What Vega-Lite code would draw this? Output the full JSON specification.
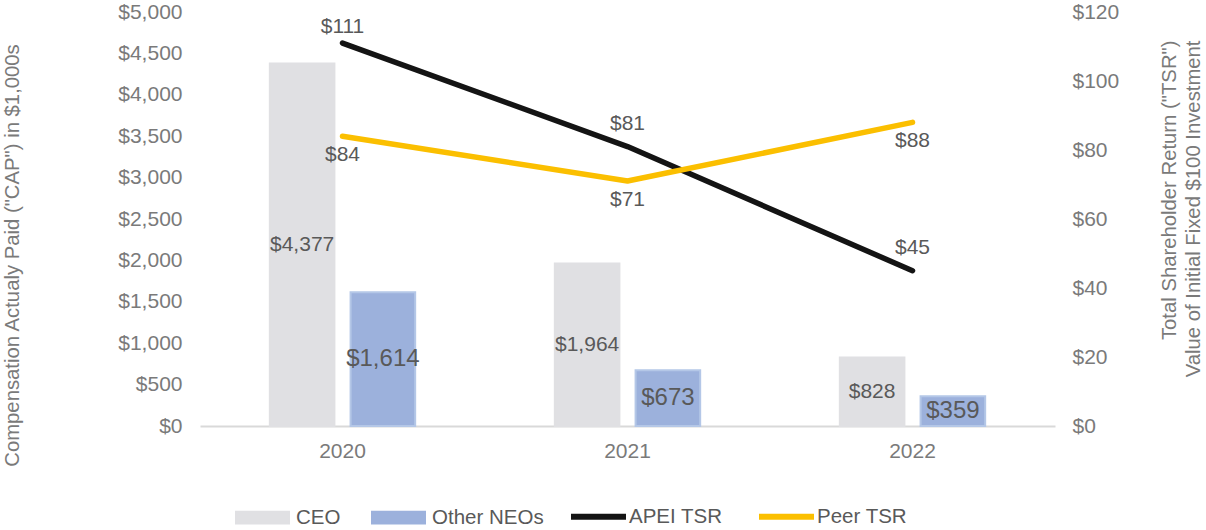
{
  "$schema": "https://vega.github.io/schema/vega-lite/v6.json",
  "width": 855,
  "height": 414,
  "autosize": {"type": "none"},
  "padding": {"left": 200, "top": 12, "right": 151, "bottom": 104},
  "background": "white",
  "config": {
    "view": {"stroke": null},
    "font": "Liberation Sans",
    "axis": {
      "grid": false,
      "ticks": false,
      "labelFont": "Liberation Sans",
      "titleFont": "Liberation Sans",
      "labelFontSize": 21,
      "labelColor": "#7a7a7a",
      "titleColor": "#7a7a7a",
      "titleFontSize": 20.3,
      "titleFontWeight": "normal"
    },
    "legend": {
      "title": null,
      "orient": "none",
      "direction": "horizontal",
      "symbolSize": 3025,
      "labelFontSize": 20.5,
      "labelColor": "#595959",
      "labelFont": "Liberation Sans",
      "labelOffset": 6,
      "columnPadding": 30,
      "padding": 0,
      "labelLimit": 300
    }
  },
  "data": {
    "values": [
      {"year": "2020", "series": "CEO", "kind": "bar", "value": 4377},
      {"year": "2021", "series": "CEO", "kind": "bar", "value": 1964},
      {"year": "2022", "series": "CEO", "kind": "bar", "value": 828},
      {"year": "2020", "series": "Other NEOs", "kind": "bar", "value": 1614},
      {"year": "2021", "series": "Other NEOs", "kind": "bar", "value": 673},
      {"year": "2022", "series": "Other NEOs", "kind": "bar", "value": 359},
      {"year": "2020", "series": "APEI TSR", "kind": "line", "value": 111},
      {"year": "2021", "series": "APEI TSR", "kind": "line", "value": 81},
      {"year": "2022", "series": "APEI TSR", "kind": "line", "value": 45},
      {"year": "2020", "series": "Peer TSR", "kind": "line", "value": 84},
      {"year": "2021", "series": "Peer TSR", "kind": "line", "value": 71},
      {"year": "2022", "series": "Peer TSR", "kind": "line", "value": 88}
    ]
  },
  "layer": [
    {
      "transform": [{"filter": "datum.kind === 'bar'"}],
      "mark": {"type": "bar", "strokeWidth": 2},
      "encoding": {
        "x": {
          "field": "year", "type": "nominal",
          "scale": {"paddingInner": 0.49, "paddingOuter": 0.245},
          "axis": {"title": null, "labelAngle": 0, "domain": true, "domainColor": "#d9d9d9", "domainWidth": 2, "labelPadding": 14}
        },
        "xOffset": {"field": "series", "type": "nominal", "scale": {"domain": ["CEO", "Other NEOs"], "paddingInner": 0.2}},
        "y": {
          "field": "value", "type": "quantitative",
          "scale": {"domain": [0, 5000], "nice": false},
          "axis": {
            "title": "Compensation Actualy Paid (\"CAP\") in $1,000s",
            "format": "$,.0f",
            "values": [0, 500, 1000, 1500, 2000, 2500, 3000, 3500, 4000, 4500, 5000],
            "domain": false,
            "labelPadding": 18,
            "titleX": -182,
            "titleY": 243,
            "titleAngle": -90,
            "titleAlign": "center",
            "titleBaseline": "alphabetic"
          }
        },
        "fill": {
          "field": "series", "type": "nominal",
          "scale": {"domain": ["CEO", "Other NEOs"], "range": ["#e0e0e3", "#9cb1dc"]},
          "legend": {
            "legendX": 35,
            "legendY": 478,
            "symbolType": "M-1,-0.25H1V0.25H-1Z",
            "symbolStrokeWidth": 0
          }
        },
        "stroke": {"condition": {"test": "datum.series === 'Other NEOs'", "value": "#b4c7e7"}, "value": "#e0e0e3"}
      }
    },
    {
      "transform": [{"filter": "datum.kind === 'bar'"}],
      "mark": {"type": "text", "color": "#595959", "font": "Liberation Sans"},
      "encoding": {
        "x": {"field": "year", "type": "nominal"},
        "xOffset": {"field": "series", "type": "nominal"},
        "y": {"field": "value", "type": "quantitative", "scale": {"domain": [0, 10000], "nice": false}, "axis": null},
        "text": {"field": "value", "type": "quantitative", "format": "$,.0f"},
        "size": {"condition": {"test": "datum.series === 'Other NEOs'", "value": 24}, "value": 21}
      }
    },
    {
      "transform": [{"filter": "datum.kind === 'line'"}],
      "mark": {"type": "line", "strokeWidth": 5.5, "strokeCap": "round", "strokeJoin": "round"},
      "encoding": {
        "x": {"field": "year", "type": "nominal"},
        "y": {
          "field": "value", "type": "quantitative",
          "scale": {"domain": [0, 120], "nice": false},
          "axis": {
            "orient": "right",
            "title": ["Total Shareholder Return (\"TSR\")", "Value of Initial Fixed $100 Investment"],
            "values": [0, 20, 40, 60, 80, 100, 120],
            "format": "$.0f",
            "domain": false,
            "labelPadding": 17,
            "titleX": 120,
            "titleY": 28,
            "titleAngle": -90,
            "titleAlign": "right",
            "titleBaseline": "alphabetic",
            "titleLineHeight": 24
          }
        },
        "stroke": {
          "field": "series", "type": "nominal",
          "scale": {"domain": ["APEI TSR", "Peer TSR"], "range": ["#141414", "#fbbf00"]},
          "legend": {
            "legendX": 368,
            "legendY": 474,
            "symbolType": "stroke",
            "symbolStrokeWidth": 6,
            "labelOffset": 0,
            "columnPadding": 24
          }
        }
      }
    },
    {
      "transform": [{"filter": "datum.series === 'APEI TSR' && datum.year !== '2020'"}],
      "mark": {"type": "text", "color": "#595959", "font": "Liberation Sans", "fontSize": 21, "dy": -23},
      "encoding": {
        "x": {"field": "year", "type": "nominal"},
        "y": {"field": "value", "type": "quantitative", "scale": {"domain": [0, 120], "nice": false}, "axis": null},
        "text": {"field": "value", "type": "quantitative", "format": "$.0f"}
      }
    },
    {
      "transform": [{"filter": "datum.series === 'APEI TSR' && datum.year === '2020'"}],
      "mark": {"type": "text", "color": "#595959", "font": "Liberation Sans", "fontSize": 21, "dy": -16},
      "encoding": {
        "x": {"field": "year", "type": "nominal"},
        "y": {"field": "value", "type": "quantitative", "scale": {"domain": [0, 120], "nice": false}, "axis": null},
        "text": {"field": "value", "type": "quantitative", "format": "$.0f"}
      }
    },
    {
      "transform": [{"filter": "datum.series === 'Peer TSR'"}],
      "mark": {"type": "text", "color": "#595959", "font": "Liberation Sans", "fontSize": 21, "dy": 19},
      "encoding": {
        "x": {"field": "year", "type": "nominal"},
        "y": {"field": "value", "type": "quantitative", "scale": {"domain": [0, 120], "nice": false}, "axis": null},
        "text": {"field": "value", "type": "quantitative", "format": "$.0f"}
      }
    }
  ],
  "resolve": {"scale": {"y": "independent"}}
}
